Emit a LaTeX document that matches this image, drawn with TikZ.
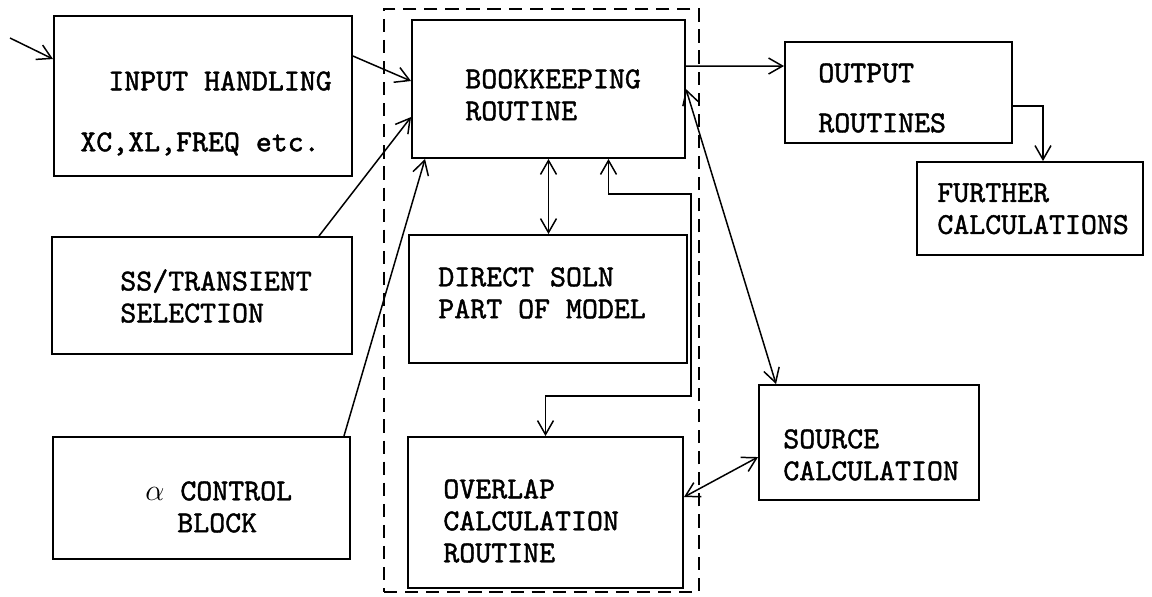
\documentclass[tikz,border=0pt]{standalone}
\usepackage{fontspec}
\newfontfamily\typew{lmmono10-regular}[Extension=.otf, FakeBold=1.4]
\usetikzlibrary{arrows.meta,fit}

\tikzset{
  block/.style={draw, line width=1.1pt, inner sep=0pt},
  frame/.style={draw, line width=1.1pt, inner sep=0pt, dash pattern=on 7.5pt off 4.5pt},
  lbl/.style={anchor=north west, inner sep=0pt, align=left, font=\typew\fontsize{17.3}{18.2}\selectfont},
  link/.style={line width=0.85pt},
}

\begin{document}
\begin{tikzpicture}[x=0.02cm, y=-0.02cm, >={Straight Barb[length=2.8mm,width=3.2mm]}]
  \useasboundingbox (0,0) rectangle (1152,596);
  % blocks
  \node[frame, fit={(384,9) (699,592)}] (core) {};
  \node[block, fit={(54,16) (352,176)}] (inp) {};
  \node[block, fit={(412,20) (685,158)}] (book) {};
  \node[block, fit={(785,42) (1012,143)}] (outp) {};
  \node[block, fit={(917,162) (1143,255)}] (furth) {};
  \node[block, fit={(52,237) (352,354)}] (ss) {};
  \node[block, fit={(53,437) (350,559)}] (alpha) {};
  \node[block, fit={(409,235) (687,363)}] (direct) {};
  \node[block, fit={(408,437) (683,588)}] (overlap) {};
  \node[block, fit={(759,385) (979,500)}] (source) {};
  % texts
  \node[lbl] (inp-t) at (80,71) {\hspace*{0.56cm}INPUT HANDLING\\[0.58cm]XC,XL,FREQ etc.};
  \node[lbl] (book-t) at (465,69) {BOOKKEEPING\\ROUTINE};
  \node[lbl] (outp-t) at (818,63) {OUTPUT\\[0.36cm]ROUTINES};
  \node[lbl] (furth-t) at (937,183) {FURTHER\\CALCULATIONS};
  \node[lbl] (ss-t) at (120,269) {SS/TRANSIENT\\SELECTION};
  \node[lbl] (alpha-t) at (145,481) {$\alpha$ CONTROL\\\hspace*{0.64cm}BLOCK};
  \node[lbl] (direct-t) at (438,267) {DIRECT SOLN\\PART OF MODEL};
  \node[lbl] (overlap-t) at (443,479) {OVERLAP\\CALCULATION\\ROUTINE};
  \node[lbl] (source-t) at (783,429) {SOURCE\\CALCULATION};
  % connectors
  \coordinate (in0) at (10,38);
  \draw[link,->] (in0) -- ([shift={(0,44)}]inp.north west);
  \draw[link,->] ([shift={(0,41)}]inp.north east) -- ([shift={(0,62)}]book.north west);
  \draw[link,->] ([shift={(-34,0)}]ss.north east) -- ([shift={(0,98)}]book.north west);
  \draw[link,->] ([shift={(-7,0)}]alpha.north east) -- ([shift={(14,0)}]book.south west);
  \draw[link,<->] (book.south) -- (book.south |- direct.north);
  \draw[link,<->] ([shift={(60,0)}]book.south) |- ([shift={(3,-40)}]direct.north east)
    -- ([shift={(3,32)}]direct.south east) -| (overlap.north);
  \draw[link,->] ([shift={(0,47)}]book.north east) -- ([shift={(0,25)}]outp.north west);
  \draw[link,<->] ([shift={(0,70)}]book.north east) -- ([shift={(18,0)}]source.north west);
  \draw[link,<->] ([shift={(0,61)}]overlap.north east) -- ([shift={(0,73)}]source.north west);
  \draw[link,->] ([shift={(0,65)}]outp.north east) -| ([shift={(13,0)}]furth.north);
\end{tikzpicture}
\end{document}
